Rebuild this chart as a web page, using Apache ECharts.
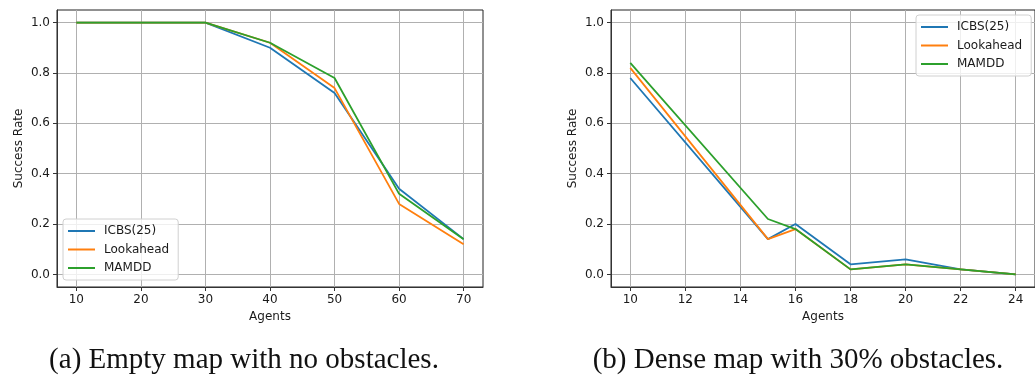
<!DOCTYPE html>
<html>
<head>
<meta charset="utf-8">
<script src="https://cdn.jsdelivr.net/npm/echarts@6/dist/echarts.min.js"></script>
<style>
  html, body { margin: 0; padding: 0; background: #fff; }
  #chart { width: 1035px; height: 376px; }
</style>
</head>
<body>
<div id="chart"></div>
<script>
// Series names shared by both panels
const seriesNames = ['ICBS(25)', 'Lookahead', 'MAMDD'];
const seriesColors = ['#1f77b4', '#ff7f0e', '#2ca02c'];

// Panel (a): empty map
const agentsA = [10, 20, 30, 40, 50, 60, 70];
const icbsA = [1.0, 1.0, 1.0, 0.90, 0.72, 0.34, 0.14];
const lookaheadA = [1.0, 1.0, 1.0, 0.92, 0.74, 0.28, 0.12];
const mamddA = [1.0, 1.0, 1.0, 0.92, 0.78, 0.32, 0.14];

// Panel (b): dense map, 30% obstacles
const agentsB = [10, 15, 16, 18, 20, 22, 24];
const icbsB = [0.78, 0.14, 0.20, 0.04, 0.06, 0.02, 0.0];
const lookaheadB = [0.82, 0.14, 0.18, 0.02, 0.04, 0.02, 0.0];
const mamddB = [0.84, 0.22, 0.18, 0.02, 0.04, 0.02, 0.0];

// Tick labels
const yTicks = [0, 0.2, 0.4, 0.6, 0.8, 1.0];
const xTicksA = [10, 20, 30, 40, 50, 60, 70];
const xTicksB = [10, 12, 14, 16, 18, 20, 22, 24];

const captionA = '(a) Empty map with no obstacles.';
const captionB = '(b) Dense map with 30% obstacles.';

const sansFont = 'DejaVu Sans';
const textColor = '#1a1a1a';

function pairs(xs, ys) {
  return xs.map((x, i) => [x, ys[i]]);
}

function xAxisOf(gridIndex, min, max, ticks) {
  return {
    type: 'value', gridIndex, min, max,
    name: 'Agents', nameLocation: 'middle', nameGap: 24,
    nameTextStyle: { fontFamily: sansFont, fontSize: 12, color: textColor },
    axisLine: { show: true, onZero: false, lineStyle: { color: '#333', width: 1 } },
    axisTick: { show: true, inside: false, length: 4, customValues: ticks, lineStyle: { color: '#333', width: 1 } },
    axisLabel: { show: true, margin: 7, customValues: ticks, fontFamily: sansFont, fontSize: 12, color: textColor,
                 formatter: v => String(v) },
    splitLine: { show: true, lineStyle: { color: '#b0b0b0', width: 1 } }
  };
}

function yAxisOf(gridIndex) {
  return {
    type: 'value', gridIndex, min: -0.05, max: 1.05,
    name: 'Success Rate', nameLocation: 'middle', nameGap: 32,
    nameTextStyle: { fontFamily: sansFont, fontSize: 12, color: textColor },
    axisLine: { show: true, onZero: false, lineStyle: { color: '#333', width: 1 } },
    axisTick: { show: true, inside: false, length: 4, customValues: yTicks, lineStyle: { color: '#333', width: 1 } },
    axisLabel: { show: true, margin: 7, customValues: yTicks, fontFamily: sansFont, fontSize: 12, color: textColor,
                 formatter: v => v.toFixed(1) },
    splitLine: { show: true, lineStyle: { color: '#b0b0b0', width: 1 } }
  };
}

function lineSeries(name, idx, gridIdx, xs, ys) {
  return {
    type: 'line', name, xAxisIndex: gridIdx, yAxisIndex: gridIdx,
    data: pairs(xs, ys), symbol: 'none', smooth: false,
    lineStyle: { color: seriesColors[idx], width: 1.8 },
    itemStyle: { color: seriesColors[idx] },
    emphasis: { disabled: true }
  };
}

function legendOf(pos) {
  return Object.assign({
    orient: 'vertical',
    data: seriesNames.map(n => ({ name: n })),
    icon: 'rect', itemWidth: 27, itemHeight: 2, itemGap: 4.5,
    textStyle: { fontFamily: sansFont, fontSize: 12, color: textColor, lineHeight: 14, padding: [0, 0, 0, 4] },
    backgroundColor: 'rgba(255,255,255,0.8)',
    borderColor: '#d0d0d0', borderWidth: 1, borderRadius: 3,
    padding: [5, 9, 5, 5],
    selectedMode: false
  }, pos);
}

const chart = echarts.init(document.getElementById('chart'), null, { renderer: 'canvas' });

chart.setOption({
  animation: false,
  backgroundColor: '#fff',
  grid: [
    { left: 57, top: 10, width: 426, height: 277, show: true, borderColor: '#222', borderWidth: 1, backgroundColor: 'transparent', containLabel: false },
    { left: 611, top: 10, width: 426, height: 277, show: true, borderColor: '#222', borderWidth: 1, backgroundColor: 'transparent', containLabel: false }
  ],
  xAxis: [xAxisOf(0, 7, 73, xTicksA), xAxisOf(1, 9.3, 24.7, xTicksB)],
  yAxis: [yAxisOf(0), yAxisOf(1)],
  legend: [
    legendOf({ left: 63, top: 219 }),
    legendOf({ left: 916, top: 15 })
  ],
  series: [
    lineSeries(seriesNames[0], 0, 0, agentsA, icbsA),
    lineSeries(seriesNames[1], 1, 0, agentsA, lookaheadA),
    lineSeries(seriesNames[2], 2, 0, agentsA, mamddA),
    lineSeries(seriesNames[0], 0, 1, agentsB, icbsB),
    lineSeries(seriesNames[1], 1, 1, agentsB, lookaheadB),
    lineSeries(seriesNames[2], 2, 1, agentsB, mamddB)
  ],
  graphic: [
    { type: 'text', x: 244, y: 360, style: { text: captionA, x: 0, y: 0, align: 'center', verticalAlign: 'middle',
      font: '29px "Liberation Serif"', fill: '#111' } },
    { type: 'text', x: 798, y: 360, style: { text: captionB, x: 0, y: 0, align: 'center', verticalAlign: 'middle',
      font: '29px "Liberation Serif"', fill: '#111' } }
  ]
});
</script>
</body>
</html>
